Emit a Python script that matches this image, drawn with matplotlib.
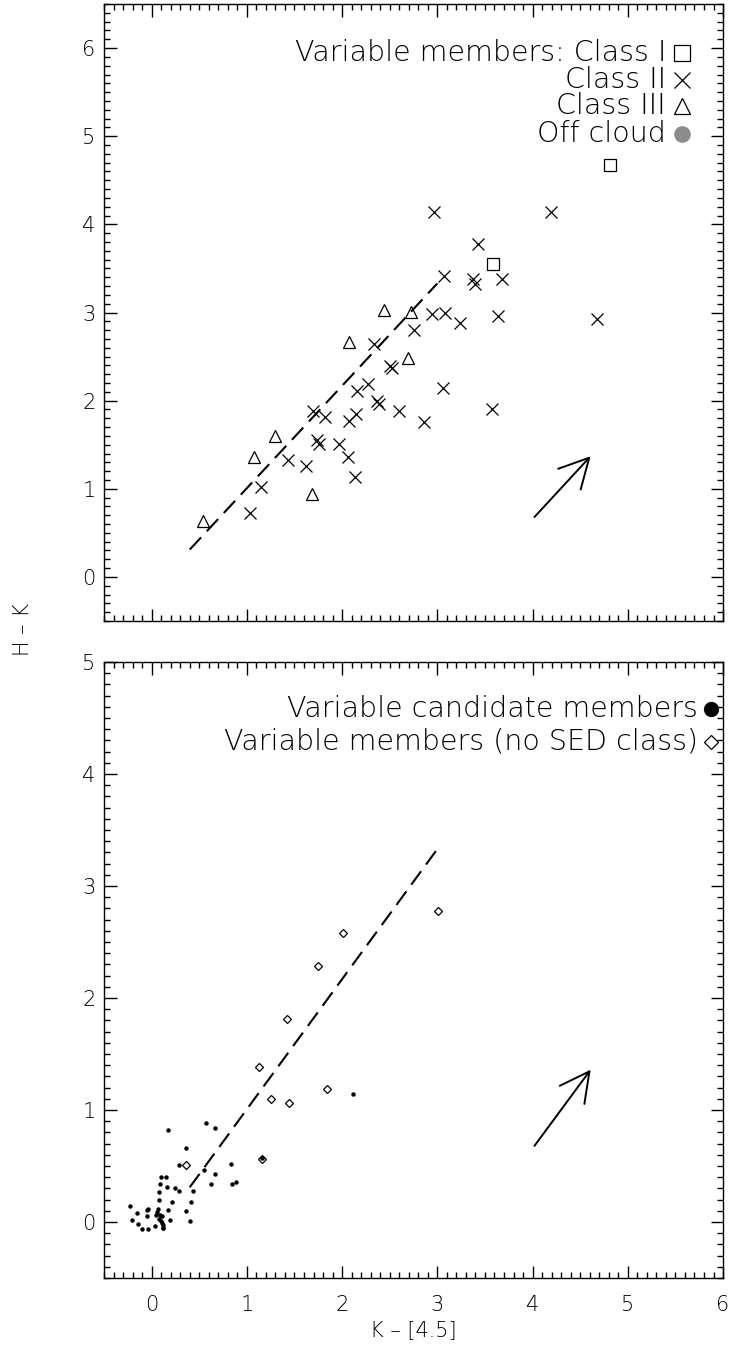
import matplotlib
matplotlib.use("Agg")
import matplotlib.pyplot as plt
from matplotlib.ticker import MultipleLocator

plt.rcParams['font.family'] = ['DejaVu Sans']
plt.rcParams['font.weight'] = 'light'
plt.rcParams['axes.labelweight'] = 'light'
plt.rcParams['lines.scale_dashes'] = False

# top panel: variable members by SED class
class1_x = [3.58, 4.81]
class1_y = [3.55, 4.67]

class2_x = [2.97, 4.19, 3.43, 3.07, 3.37, 3.40, 3.68, 2.94, 3.08, 3.24, 3.64, 4.68,
            2.75, 2.33, 2.50, 2.52, 2.27, 2.16, 3.06, 2.37, 2.39, 2.60, 2.86, 1.69,
            1.82, 2.15, 2.07, 3.57, 1.03, 1.15, 1.43, 1.62, 1.74, 1.76, 1.97, 2.06,
            2.14]
class2_y = [4.14, 4.14, 3.78, 3.41, 3.38, 3.32, 3.38, 2.98, 2.99, 2.88, 2.96, 2.93,
            2.80, 2.64, 2.39, 2.37, 2.19, 2.11, 2.14, 2.00, 1.96, 1.88, 1.76, 1.88,
            1.82, 1.85, 1.77, 1.91, 0.73, 1.02, 1.33, 1.26, 1.55, 1.51, 1.51, 1.36,
            1.13]

class3_x = [2.44, 2.72, 2.07, 2.69, 0.54, 1.07, 1.30, 1.68]
class3_y = [3.03, 3.01, 2.66, 2.48, 0.63, 1.36, 1.60, 0.94]

# bottom panel
noclass_x = [3.01, 2.01, 1.75, 1.42, 1.13, 1.84, 1.25, 1.44, 1.16, 0.36]
noclass_y = [2.78, 2.58, 2.29, 1.81, 1.38, 1.19, 1.10, 1.06, 0.56, 0.51]

cand_x = [2.11, 1.16, 0.17, 0.57, 0.67, 0.36, 0.29, 0.83, 0.55, 0.67, 0.10, 0.15,
          0.62, 0.84, 0.89, 0.09, 0.16, 0.25, 0.29, 0.43, 0.08, 0.08, 0.21, 0.41,
          -0.23, -0.15, -0.05, -0.04, -0.05, 0.07, 0.06, 0.05, 0.09, 0.11, 0.08,
          0.10, 0.11, 0.12, 0.12, 0.17, 0.19, 0.36, 0.40, -0.21, -0.14, -0.10,
          -0.04, 0.04, 0.12]
cand_y = [1.14, 0.57, 0.82, 0.88, 0.84, 0.66, 0.51, 0.52, 0.46, 0.43, 0.40, 0.40,
          0.34, 0.34, 0.36, 0.34, 0.31, 0.30, 0.28, 0.28, 0.27, 0.20, 0.18, 0.18,
          0.14, 0.08, 0.11, 0.12, 0.05, 0.12, 0.09, 0.06, 0.06, 0.05, 0.03,
          0.01, -0.01, -0.03, -0.05, 0.11, 0.02, 0.10, 0.01, 0.02, -0.02, -0.06,
          -0.06, -0.04, -0.05]

# fitted locus and reddening vector
line_x = [0.40, 3.00]
line_y = [0.31, 3.33]
vec_start = (4.02, 0.68)
vec_end_top = (4.61, 1.37)
vec_end_bot = (4.61, 1.36)

fig = plt.figure(figsize=(7.31, 13.45), dpi=100)
ax1 = fig.add_axes([0.1423, 0.5383, 0.8468, 0.4587])
ax2 = fig.add_axes([0.1423, 0.0498, 0.8468, 0.4580])


def style_axis(ax, ylim, xlabels):
    ax.set_xlim(-0.5, 6)
    ax.set_ylim(*ylim)
    ax.xaxis.set_major_locator(MultipleLocator(1))
    ax.xaxis.set_minor_locator(MultipleLocator(0.1))
    ax.yaxis.set_major_locator(MultipleLocator(1))
    ax.yaxis.set_minor_locator(MultipleLocator(0.1))
    ax.tick_params(which='both', direction='in', top=True, right=True, width=1.0,
                   labelsize=15, colors='black')
    ax.tick_params(which='major', length=9)
    ax.tick_params(which='minor', length=4.5)
    ax.tick_params(axis='y', pad=6)
    ax.tick_params(axis='x', pad=12, labelbottom=xlabels)
    for s in ax.spines.values():
        s.set_linewidth(1.0)


style_axis(ax1, (-0.5, 6.5), False)
style_axis(ax2, (-0.5, 5.0), True)

leg_fs = 20.5

# top panel
ax1.plot(line_x, line_y, color='black', lw=1.5, dashes=(12, 6))
ax1.plot(class1_x, class1_y, 's', ms=8, mfc='none', mec='black', mew=0.9)
ax1.plot(class2_x, class2_y, 'x', ms=8, color='black', mew=0.9)
ax1.plot(class3_x, class3_y, '^', ms=8, mfc='none', mec='black', mew=0.9)
ax1.annotate('', xy=vec_end_top, xytext=vec_start,
             arrowprops=dict(arrowstyle='->,head_length=1.05,head_width=0.55',
                             mutation_scale=20, lw=1.4, color='black',
                             shrinkA=0, shrinkB=0))

leg_tx = 5.40
leg_mx = 5.57
ax1.text(leg_tx, 5.94, 'Variable members: Class I', ha='right', va='center', fontsize=leg_fs)
ax1.text(leg_tx, 5.64, 'Class II', ha='right', va='center', fontsize=leg_fs)
ax1.text(leg_tx, 5.34, 'Class III', ha='right', va='center', fontsize=leg_fs)
ax1.text(leg_tx, 5.03, 'Off cloud', ha='right', va='center', fontsize=leg_fs)
ax1.plot([leg_mx], [5.94], 's', ms=12, mfc='none', mec='black', mew=0.9)
ax1.plot([leg_mx], [5.64], 'x', ms=12, color='black', mew=0.9)
ax1.plot([leg_mx], [5.34], '^', ms=12, mfc='none', mec='black', mew=0.9)
ax1.plot([leg_mx], [5.03], 'o', ms=12, color='#8c8c8c', mec='none')

# bottom panel
ax2.plot(line_x, line_y, color='black', lw=1.5, dashes=(12, 6))
ax2.plot(cand_x, cand_y, 'o', ms=3.2, color='black', mec='none')
ax2.plot(noclass_x, noclass_y, 'D', ms=4, mfc='none', mec='black', mew=0.9)
ax2.annotate('', xy=vec_end_bot, xytext=vec_start,
             arrowprops=dict(arrowstyle='->,head_length=1.05,head_width=0.55',
                             mutation_scale=20, lw=1.4, color='black',
                             shrinkA=0, shrinkB=0))

leg2_tx = 5.74
leg2_mx = 5.87
ax2.text(leg2_tx, 4.58, 'Variable candidate members', ha='right', va='center', fontsize=leg_fs)
ax2.text(leg2_tx, 4.29, 'Variable members (no SED class)', ha='right', va='center', fontsize=leg_fs)
ax2.plot([leg2_mx], [4.58], 'o', ms=11, color='black', mec='none')
ax2.plot([leg2_mx], [4.29], 'D', ms=7.5, mfc='none', mec='black', mew=0.9)

ax2.set_xlabel('K – [4.5]', fontsize=15, labelpad=4, fontweight='light')
fig.text(23 / 731, 1 - 630 / 1345, 'H – K', rotation=90, ha='center', va='center', fontsize=15)

fig.savefig('out.png', dpi=100)
